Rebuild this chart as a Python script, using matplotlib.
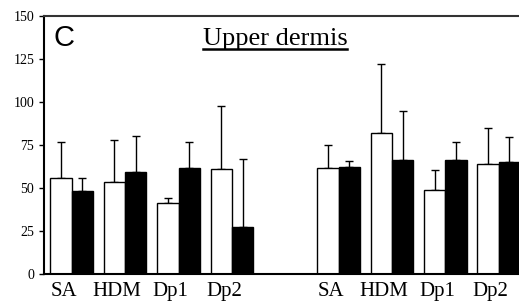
import numpy as np
import matplotlib.pyplot as plt
from matplotlib.lines import Line2D

plt.rcParams['font.family'] = ['Liberation Serif', 'DejaVu Serif']

labels = ['SA', 'HDM', 'Dp1', 'Dp2', 'SA', 'HDM', 'Dp1', 'Dp2']
positions = [0, 1, 2, 3, 5, 6, 7, 8]

white_mean = [56, 53.5, 41, 61, 61.5, 82, 49, 64]
white_top = [76.5, 78, 44, 97.5, 75, 122, 60.5, 85]
black_mean = [48.5, 59, 61.5, 27.5, 62, 66.5, 66.5, 65]
black_top = [56, 80, 76.5, 67, 65.5, 94.5, 76.5, 79.5]

x = np.array(positions, dtype=float)
w = 0.4
wm = np.array(white_mean)
bm = np.array(black_mean)
we = np.array(white_top) - wm
be = np.array(black_top) - bm

fig = plt.figure(figsize=(5.19, 3.06), dpi=100)
ax = fig.add_axes([0.0848, 0.1046, 0.9152, 0.8434])

ax.bar(x - w / 2, wm, w, color='white', edgecolor='black', linewidth=1.0, zorder=2)
ax.bar(x + w / 2, bm, w, color='black', edgecolor='black', linewidth=1.0, zorder=2)
ax.errorbar(x - w / 2, wm, yerr=[np.zeros_like(we), we], fmt='none',
            ecolor='black', elinewidth=1.0, capsize=3, capthick=1.0, zorder=1)
ax.errorbar(x + w / 2, bm, yerr=[np.zeros_like(be), be], fmt='none',
            ecolor='black', elinewidth=1.0, capsize=3, capthick=1.0, zorder=1)

ax.set_xlim(-0.52, 8.38)
ax.set_ylim(0, 150)
ax.set_yticks([0, 25, 50, 75, 100, 125, 150])
ax.tick_params(axis='y', direction='out', length=3.6, width=1, labelsize=10, pad=3.5)
ax.set_xticks(x - 0.15)
ax.set_xticklabels(labels, fontsize=15)
ax.tick_params(axis='x', length=0, pad=6)

ax.spines['right'].set_visible(False)
for s in ['left', 'bottom', 'top']:
    ax.spines[s].set_linewidth(1.5)
ax.spines['top'].set_color('#333333')

ax.text(0.02, 0.97, 'C', transform=ax.transAxes, fontsize=21,
        family=['Liberation Sans'], va='top', ha='left')
title = ax.text(0.334, 0.8876, 'Upper dermis', transform=ax.transAxes,
                fontsize=19, va='baseline', ha='left')

# underline the heading
fig.canvas.draw()
bb = title.get_window_extent().transformed(fig.transFigure.inverted())
uy = bb.y0 + 0.003
fig.add_artist(Line2D([bb.x0, bb.x1], [uy, uy], transform=fig.transFigure,
                      color='black', linewidth=1.8))

fig.savefig('out.png', dpi=100)
